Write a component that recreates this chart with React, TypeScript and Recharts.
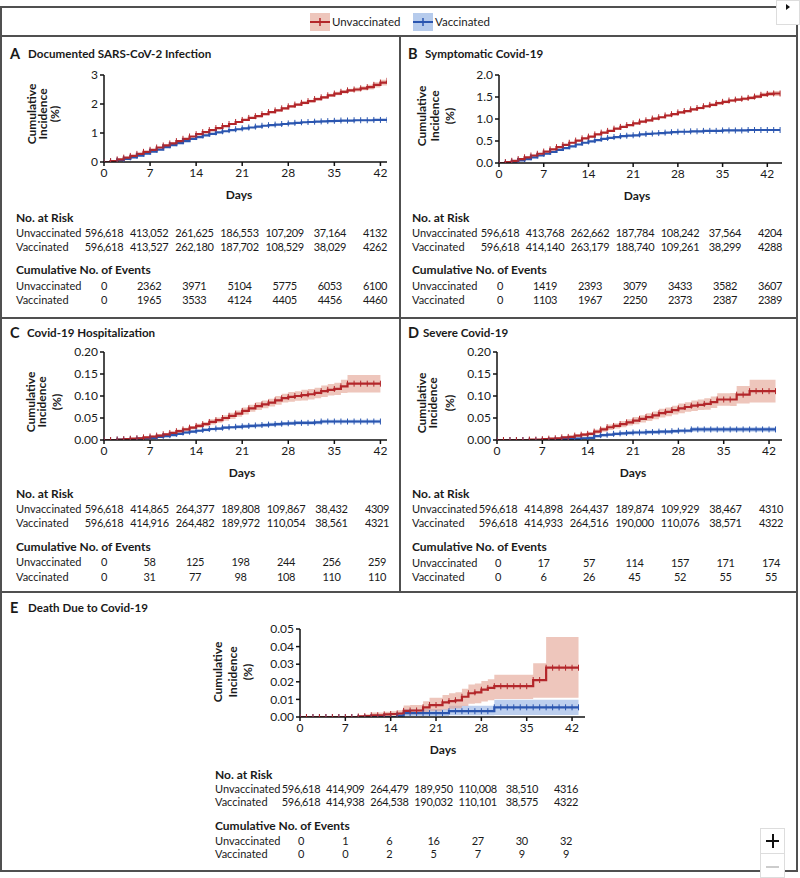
import React from 'react';
import { ComposedChart, Line, Area, XAxis, YAxis } from 'recharts';

const FONT = 'Lato, "Noto Sans", sans-serif';
const RED = '#b3262a';
const RED_BAND = '#e3a090';
const BLUE = '#2b56b0';
const BLUE_BAND = '#86a8e0';
const FRAME = '#505050';

const tickDays = [0, 7, 14, 21, 28, 35, 42];
const range = (n: number) => Array.from({ length: n }, (_, i) => i);

// ---------- Panel A: Documented SARS-CoV-2 Infection ----------
const daysA = range(44);
const redA = [0,0.03,0.09,0.15,0.21,0.28,0.35,0.42,0.50,0.57,0.64,0.72,0.80,0.88,0.96,1.03,1.10,1.17,1.24,1.31,1.38,1.45,1.52,1.58,1.65,1.72,1.78,1.85,1.92,1.98,2.04,2.10,2.17,2.23,2.30,2.36,2.42,2.47,2.50,2.54,2.58,2.66,2.74,2.80];
const redAci = [0,0.01,0.01,0.01,0.01,0.01,0.02,0.02,0.02,0.02,0.02,0.02,0.02,0.02,0.03,0.03,0.03,0.03,0.03,0.03,0.03,0.03,0.03,0.04,0.04,0.04,0.04,0.04,0.04,0.04,0.05,0.05,0.05,0.05,0.05,0.06,0.06,0.06,0.07,0.07,0.08,0.09,0.10,0.10];
const blueA = [0,0.02,0.06,0.11,0.16,0.22,0.29,0.36,0.43,0.51,0.58,0.65,0.72,0.80,0.86,0.92,0.97,1.02,1.06,1.10,1.13,1.16,1.19,1.22,1.25,1.27,1.29,1.31,1.33,1.35,1.37,1.38,1.39,1.40,1.41,1.42,1.43,1.43,1.44,1.44,1.44,1.45,1.45,1.45];
const blueAci = [0,0.005,0.01,0.01,0.01,0.01,0.01,0.01,0.01,0.01,0.015,0.015,0.015,0.015,0.015,0.015,0.015,0.015,0.02,0.02,0.02,0.02,0.02,0.02,0.02,0.02,0.02,0.02,0.02,0.02,0.02,0.02,0.02,0.02,0.02,0.02,0.02,0.02,0.02,0.02,0.02,0.02,0.02,0.02];
const riskUnvA = ['596,618','413,052','261,625','186,553','107,209','37,164','4132'];
const riskVacA = ['596,618','413,527','262,180','187,702','108,529','38,029','4262'];
const evUnvA = ['0','2362','3971','5104','5775','6053','6100'];
const evVacA = ['0','1965','3533','4124','4405','4456','4460'];

// ---------- Panel B: Symptomatic Covid-19 ----------
const daysB = range(45);
const redB = [0,0.02,0.05,0.09,0.13,0.17,0.21,0.26,0.31,0.36,0.41,0.46,0.51,0.56,0.60,0.65,0.69,0.73,0.78,0.82,0.86,0.90,0.94,0.97,1.01,1.04,1.08,1.11,1.15,1.18,1.22,1.25,1.29,1.32,1.36,1.39,1.42,1.44,1.46,1.48,1.51,1.55,1.57,1.58,1.58];
const redBci = [0,0.005,0.005,0.008,0.008,0.01,0.01,0.01,0.012,0.012,0.012,0.014,0.014,0.015,0.015,0.016,0.017,0.018,0.018,0.019,0.02,0.02,0.021,0.022,0.022,0.023,0.024,0.025,0.025,0.026,0.027,0.028,0.029,0.03,0.03,0.031,0.032,0.033,0.035,0.037,0.04,0.045,0.05,0.055,0.055];
const blueB = [0,0.01,0.03,0.06,0.09,0.13,0.17,0.21,0.25,0.30,0.34,0.38,0.42,0.46,0.49,0.52,0.55,0.57,0.59,0.61,0.62,0.63,0.65,0.66,0.67,0.68,0.69,0.70,0.71,0.71,0.72,0.72,0.73,0.73,0.73,0.74,0.74,0.74,0.74,0.75,0.75,0.75,0.75,0.75,0.75];
const blueBci = [0,0.004,0.005,0.006,0.007,0.008,0.008,0.009,0.01,0.01,0.01,0.011,0.011,0.012,0.012,0.012,0.012,0.013,0.013,0.013,0.013,0.013,0.013,0.013,0.013,0.014,0.014,0.014,0.014,0.014,0.014,0.014,0.014,0.015,0.015,0.015,0.015,0.015,0.015,0.015,0.015,0.016,0.016,0.016,0.016];
const riskUnvB = ['596,618','413,768','262,662','187,784','108,242','37,564','4204'];
const riskVacB = ['596,618','414,140','263,179','188,740','109,261','38,299','4288'];
const evUnvB = ['0','1419','2393','3079','3433','3582','3607'];
const evVacB = ['0','1103','1967','2250','2373','2387','2389'];

// ---------- Panel C: Covid-19 Hospitalization ----------
const daysC = range(43);
const redC = [0,0,0.001,0.002,0.003,0.004,0.006,0.008,0.010,0.013,0.016,0.020,0.024,0.028,0.032,0.036,0.041,0.045,0.050,0.055,0.060,0.066,0.072,0.077,0.081,0.085,0.090,0.095,0.098,0.100,0.102,0.104,0.107,0.111,0.114,0.116,0.122,0.128,0.128,0.128,0.128,0.128,0.128];
const redCci = [0,0,0.001,0.001,0.001,0.002,0.002,0.002,0.003,0.003,0.003,0.004,0.004,0.004,0.005,0.005,0.006,0.006,0.006,0.007,0.007,0.008,0.008,0.009,0.009,0.009,0.010,0.010,0.011,0.011,0.012,0.012,0.012,0.013,0.013,0.014,0.015,0.020,0.020,0.020,0.020,0.020,0.020];
const blueC = [0,0,0.001,0.001,0.002,0.003,0.004,0.005,0.007,0.009,0.011,0.014,0.017,0.019,0.021,0.023,0.025,0.026,0.028,0.029,0.030,0.031,0.032,0.033,0.034,0.035,0.036,0.037,0.038,0.039,0.039,0.039,0.040,0.042,0.042,0.042,0.042,0.042,0.042,0.042,0.042,0.042,0.042];
const blueCci = [0,0,0.001,0.001,0.001,0.001,0.001,0.002,0.002,0.002,0.002,0.002,0.003,0.003,0.003,0.003,0.003,0.003,0.003,0.003,0.004,0.004,0.004,0.004,0.004,0.004,0.004,0.004,0.004,0.004,0.004,0.004,0.004,0.004,0.004,0.004,0.004,0.004,0.004,0.004,0.004,0.004,0.004];
const riskUnvC = ['596,618','414,865','264,377','189,808','109,867','38,432','4309'];
const riskVacC = ['596,618','414,916','264,482','189,972','110,054','38,561','4321'];
const evUnvC = ['0','58','125','198','244','256','259'];
const evVacC = ['0','31','77','98','108','110','110'];

// ---------- Panel D: Severe Covid-19 ----------
const daysD = range(44);
const redD = [0,0,0,0,0,0.001,0.001,0.002,0.003,0.004,0.006,0.007,0.010,0.012,0.014,0.019,0.024,0.029,0.032,0.036,0.040,0.044,0.048,0.052,0.056,0.061,0.064,0.068,0.072,0.075,0.078,0.080,0.082,0.086,0.092,0.092,0.092,0.103,0.103,0.111,0.111,0.111,0.111,0.111];
const redDci = [0,0,0,0,0,0.001,0.001,0.001,0.002,0.002,0.002,0.003,0.003,0.004,0.004,0.005,0.005,0.006,0.006,0.007,0.007,0.008,0.008,0.009,0.009,0.010,0.010,0.010,0.011,0.011,0.012,0.012,0.013,0.013,0.014,0.014,0.015,0.020,0.020,0.026,0.026,0.026,0.026,0.026];
const blueD = [0,0,0,0,0,0,0,0,0,0.001,0.002,0.002,0.003,0.004,0.005,0.009,0.011,0.012,0.014,0.015,0.016,0.017,0.017,0.018,0.018,0.019,0.019,0.020,0.021,0.021,0.024,0.024,0.024,0.024,0.024,0.024,0.024,0.024,0.024,0.024,0.024,0.024,0.024,0.024];
const blueDci = [0,0,0,0,0,0,0,0,0,0.001,0.001,0.001,0.002,0.002,0.002,0.003,0.003,0.003,0.003,0.004,0.004,0.004,0.004,0.004,0.004,0.004,0.004,0.004,0.004,0.004,0.005,0.005,0.005,0.005,0.005,0.005,0.005,0.005,0.005,0.005,0.005,0.005,0.005,0.005];
const riskUnvD = ['596,618','414,898','264,437','189,874','109,929','38,467','4310'];
const riskVacD = ['596,618','414,933','264,516','190,000','110,076','38,571','4322'];
const evUnvD = ['0','17','57','114','157','171','174'];
const evVacD = ['0','6','26','45','52','55','55'];

// ---------- Panel E: Death Due to Covid-19 ----------
const daysE = range(44);
const redE = [0,0,0,0,0,0,0,0,0,0.0003,0.0005,0.001,0.001,0.0015,0.0017,0.002,0.0035,0.0037,0.0037,0.0055,0.0068,0.0068,0.0083,0.009,0.0095,0.0115,0.0135,0.014,0.0155,0.0165,0.0175,0.0175,0.0175,0.0175,0.0175,0.0175,0.021,0.021,0.028,0.028,0.028,0.028,0.028,0.028];
const redElo = [0,0,0,0,0,0,0,0,0,0,0,0.0003,0.0003,0.0005,0.0006,0.0008,0.0015,0.0016,0.0016,0.0025,0.0033,0.0033,0.0042,0.0047,0.005,0.0063,0.0075,0.0078,0.0088,0.0095,0.0102,0.0102,0.0102,0.0102,0.0102,0.0102,0.011,0.011,0.011,0.011,0.011,0.011,0.011,0.011];
const redEhi = [0,0,0,0,0,0,0,0,0,0.001,0.0015,0.0025,0.0025,0.003,0.0033,0.0038,0.0065,0.0068,0.0068,0.009,0.011,0.011,0.0125,0.0135,0.014,0.016,0.0185,0.019,0.0205,0.0215,0.024,0.024,0.024,0.024,0.024,0.024,0.0305,0.0305,0.0455,0.0455,0.0455,0.0455,0.0455,0.0455];
const blueE = [0,0,0,0,0,0,0,0,0,0,0,0,0,0,0,0.0008,0.0022,0.0022,0.0022,0.0022,0.0022,0.0022,0.0022,0.0033,0.0033,0.0033,0.0033,0.0033,0.0033,0.0033,0.0055,0.0055,0.0055,0.0055,0.0055,0.0055,0.0055,0.0055,0.0055,0.0055,0.0055,0.0055,0.0055,0.0055];
const blueElo = [0,0,0,0,0,0,0,0,0,0,0,0,0,0,0,0.0001,0.0005,0.0005,0.0005,0.0005,0.0005,0.0005,0.0005,0.001,0.001,0.001,0.001,0.001,0.001,0.001,0.0012,0.0012,0.0012,0.0012,0.0012,0.0012,0.0012,0.0012,0.0012,0.0012,0.0012,0.0012,0.0012,0.0012];
const blueEhi = [0,0,0,0,0,0,0,0,0,0,0,0,0,0,0,0.0025,0.0046,0.0046,0.0046,0.0046,0.0046,0.0046,0.0046,0.0064,0.0064,0.0064,0.0064,0.0064,0.0064,0.0064,0.0098,0.0098,0.0098,0.0098,0.0098,0.0098,0.0098,0.0098,0.0098,0.0098,0.0098,0.0098,0.0098,0.0098];
const riskUnvE = ['596,618','414,909','264,479','189,950','110,008','38,510','4316'];
const riskVacE = ['596,618','414,938','264,538','190,032','110,101','38,575','4322'];
const evUnvE = ['0','1','6','16','27','30','32'];
const evVacE = ['0','0','2','5','7','9','9'];

const yTicksA = [0, 1, 2, 3];
const yTicksB = [0, 0.5, 1, 1.5, 2];
const yTicksCD = [0, 0.05, 0.1, 0.15, 0.2];
const yTicksE = [0, 0.01, 0.02, 0.03, 0.04, 0.05];

const sym = (v: number[], hw: number[]) => ({ lo: v.map((x, i) => Math.max(0, x - hw[i])), hi: v.map((x, i) => x + hw[i]) });

type Txt = { x: number; y: number; children: any; bold?: boolean; size?: number; anchor?: 'start' | 'middle' | 'end'; color?: string; ls?: number };
const T = ({ x, y, children, bold, size = 11, anchor = 'start', color = '#1a1a1a', ls = 0 }: Txt) => (
  <div style={{
    position: 'absolute', left: x, top: y,
    transform: `translate(${anchor === 'middle' ? '-50%' : anchor === 'end' ? '-100%' : '0'}, -50%)`,
    fontSize: size, fontWeight: bold ? 700 : 400, whiteSpace: 'nowrap', lineHeight: 1,
    fontFamily: FONT, color, letterSpacing: ls,
  }}>{children}</div>
);

const censorDot = (color: string) => (props: any) => {
  const { cx, cy, index } = props;
  if (cx == null || cy == null) return <g key={`e${index}`} />;
  return <line key={`d${index}`} x1={cx} x2={cx} y1={cy - 3} y2={cy + 3} stroke={color} strokeWidth={1} />;
};

type PanelCfg = {
  letter: string; title: string; letterX: number; titleX: number; titleY: number;
  plot: { l: number; r: number; t: number; b: number }; max: number; daysX?: number;
  yTicks: number[]; yDigits: number;
  ylab: number[]; ylabY: number;
  days: number[]; red: number[]; redLo: number[]; redHi: number[]; blue: number[]; blueLo: number[]; blueHi: number[];
  table: { labelX: number; c0: number; c6: number; ys: number[] };
  riskUnv: string[]; riskVac: string[]; evUnv: string[]; evVac: string[];
};

function Panel({ cfg }: { cfg: PanelCfg }) {
  const { plot, max } = cfg;
  const YW = 45, MT = 8, XH = 30, MR = 3;
  const w = plot.r - plot.l + YW + MR;
  const h = plot.b - plot.t + MT + XH;
  const rows = cfg.days.map((d, i) => ({
    day: d,
    r: cfg.red[i], b: cfg.blue[i],
    rBand: [cfg.redLo[i], cfg.redHi[i]],
    bBand: [cfg.blueLo[i], cfg.blueHi[i]],
  }));
  const yMax = cfg.yTicks[cfg.yTicks.length - 1];
  const sx = (d: number) => plot.l + (d * (plot.r - plot.l)) / max;
  const col = (i: number) => cfg.table.c0 + (i * (cfg.table.c6 - cfg.table.c0)) / 6;
  const ys = cfg.table.ys;
  const axisStyle = { stroke: '#111', strokeWidth: 1.5 };
  const tickStyle = { fontSize: 12, fill: '#1a1a1a', fontFamily: FONT };
  return (
    <>
      <T x={cfg.letterX} y={cfg.titleY} bold size={14.5}>{cfg.letter}</T>
      <T x={cfg.titleX} y={cfg.titleY} bold size={11.6}>{cfg.title}</T>
      {['Cumulative', 'Incidence', '(%)'].map((s, i) => (
        <div key={s} style={{
          position: 'absolute', left: cfg.ylab[i], top: cfg.ylabY,
          transform: 'translate(-50%, -50%) rotate(-90deg)', fontFamily: FONT, fontWeight: 700,
          fontSize: 12, lineHeight: 1, whiteSpace: 'nowrap', color: '#1a1a1a',
        }}>{s}</div>
      ))}
      <div style={{ position: 'absolute', left: plot.l - YW, top: plot.t - MT }}>
        <ComposedChart width={w} height={h} data={rows} margin={{ top: MT, right: MR, left: 0, bottom: 0 }}>
          <XAxis type="number" dataKey="day" domain={[0, max]} ticks={tickDays} interval={0} allowDataOverflow
            height={XH} axisLine={axisStyle} tickLine={axisStyle} tickSize={4} tick={tickStyle} />
          <YAxis type="number" domain={[0, yMax]} ticks={cfg.yTicks} interval={0} allowDataOverflow width={YW}
            axisLine={axisStyle} tickLine={axisStyle} tickSize={4} tick={tickStyle}
            tickFormatter={(v: number) => v.toFixed(cfg.yDigits)} />
          <Area type="stepAfter" dataKey="bBand" fill={BLUE_BAND} fillOpacity={0.55} stroke="none" isAnimationActive={false} />
          <Area type="stepAfter" dataKey="rBand" fill={RED_BAND} fillOpacity={0.6} stroke="none" isAnimationActive={false} />
          <Line type="stepAfter" dataKey="b" stroke={BLUE} strokeWidth={2.2} dot={censorDot(BLUE)} isAnimationActive={false} />
          <Line type="stepAfter" dataKey="r" stroke={RED} strokeWidth={2.2} dot={censorDot(RED)} isAnimationActive={false} />
        </ComposedChart>
      </div>
      <T x={cfg.daysX ?? sx(21)} y={plot.b + 33} bold size={12} anchor="middle">Days</T>
      <T x={cfg.table.labelX} y={ys[0]} bold size={12}>No. at Risk</T>
      <T x={cfg.table.labelX} y={ys[1]}>Unvaccinated</T>
      <T x={cfg.table.labelX} y={ys[2]}>Vaccinated</T>
      <T x={cfg.table.labelX} y={ys[3]} bold size={12}>Cumulative No. of Events</T>
      <T x={cfg.table.labelX} y={ys[4]}>Unvaccinated</T>
      <T x={cfg.table.labelX} y={ys[5]}>Vaccinated</T>
      {cfg.riskUnv.map((s, i) => <T key={'ru' + i} x={col(i)} y={ys[1]} anchor="middle" ls={-0.35}>{s}</T>)}
      {cfg.riskVac.map((s, i) => <T key={'rv' + i} x={col(i)} y={ys[2]} anchor="middle" ls={-0.35}>{s}</T>)}
      {cfg.evUnv.map((s, i) => <T key={'eu' + i} x={col(i)} y={ys[4]} anchor="middle" ls={-0.35}>{s}</T>)}
      {cfg.evVac.map((s, i) => <T key={'ev' + i} x={col(i)} y={ys[5]} anchor="middle" ls={-0.35}>{s}</T>)}
    </>
  );
}

const bandRA = sym(redA, redAci), bandBA = sym(blueA, blueAci);
const bandRB = sym(redB, redBci), bandBB = sym(blueB, blueBci);
const bandRC = sym(redC, redCci), bandBC = sym(blueC, blueCci);
const bandRD = sym(redD, redDci), bandBD = sym(blueD, blueDci);

const panels: PanelCfg[] = [
  {
    letter: 'A', title: 'Documented SARS-CoV-2 Infection', letterX: 10, titleX: 28, titleY: 54,
    plot: { l: 104, r: 387, t: 75, b: 162 }, max: 43, daysX: 239, yTicks: yTicksA, yDigits: 0,
    ylab: [32, 43, 55], ylabY: 114,
    days: daysA, red: redA, redLo: bandRA.lo, redHi: bandRA.hi, blue: blueA, blueLo: bandBA.lo, blueHi: bandBA.hi,
    table: { labelX: 16, c0: 104, c6: 375, ys: [218, 232, 246, 270, 285, 299] },
    riskUnv: riskUnvA, riskVac: riskVacA, evUnv: evUnvA, evVac: evVacA,
  },
  {
    letter: 'B', title: 'Symptomatic Covid-19', letterX: 408, titleX: 425, titleY: 54,
    plot: { l: 499, r: 782, t: 75, b: 163 }, max: 44.3, daysX: 637, yTicks: yTicksB, yDigits: 1,
    ylab: [422, 435, 450], ylabY: 116,
    days: daysB, red: redB, redLo: bandRB.lo, redHi: bandRB.hi, blue: blueB, blueLo: bandBB.lo, blueHi: bandBB.hi,
    table: { labelX: 412, c0: 500, c6: 770, ys: [218, 232, 246, 270, 285, 299] },
    riskUnv: riskUnvB, riskVac: riskVacB, evUnv: evUnvB, evVac: evVacB,
  },
  {
    letter: 'C', title: 'Covid-19 Hospitalization', letterX: 10, titleX: 27, titleY: 333,
    plot: { l: 104, r: 387, t: 352, b: 440 }, max: 43, daysX: 242, yTicks: yTicksCD, yDigits: 2,
    ylab: [31, 42, 57], ylabY: 402,
    days: daysC, red: redC, redLo: bandRC.lo, redHi: bandRC.hi, blue: blueC, blueLo: bandBC.lo, blueHi: bandBC.hi,
    table: { labelX: 16, c0: 104, c6: 377, ys: [494, 508, 522, 547, 561, 576] },
    riskUnv: riskUnvC, riskVac: riskVacC, evUnv: evUnvC, evVac: evVacC,
  },
  {
    letter: 'D', title: 'Severe Covid-19', letterX: 408, titleX: 423, titleY: 333,
    plot: { l: 497, r: 782, t: 352, b: 440 }, max: 44, daysX: 633, yTicks: yTicksCD, yDigits: 2,
    ylab: [422, 433, 450], ylabY: 403,
    days: daysD, red: redD, redLo: bandRD.lo, redHi: bandRD.hi, blue: blueD, blueLo: bandBD.lo, blueHi: bandBD.hi,
    table: { labelX: 412, c0: 498, c6: 771, ys: [494, 508, 522, 547, 562, 576] },
    riskUnv: riskUnvD, riskVac: riskVacD, evUnv: evUnvD, evVac: evVacD,
  },
  {
    letter: 'E', title: 'Death Due to Covid-19', letterX: 10, titleX: 28, titleY: 608,
    plot: { l: 300, r: 585, t: 629, b: 717 }, max: 44, daysX: 443, yTicks: yTicksE, yDigits: 2,
    ylab: [218, 233, 248], ylabY: 672,
    days: daysE, red: redE, redLo: redElo, redHi: redEhi, blue: blueE, blueLo: blueElo, blueHi: blueEhi,
    table: { labelX: 215, c0: 301, c6: 566, ys: [775, 788, 801, 826, 840, 853] },
    riskUnv: riskUnvE, riskVac: riskVacE, evUnv: evUnvE, evVac: evVacE,
  },
];

const HL = ({ x1, x2, y }: { x1: number; x2: number; y: number }) => (
  <div style={{ position: 'absolute', left: x1, top: y - 1, width: x2 - x1, height: 2, background: FRAME }} />
);
const VL = ({ x, y1, y2 }: { x: number; y1: number; y2: number }) => (
  <div style={{ position: 'absolute', left: x - 1, top: y1, width: 2, height: y2 - y1, background: FRAME }} />
);

const LegendIcon = ({ x, color, band }: { x: number; color: string; band: string }) => (
  <svg style={{ position: 'absolute', left: x, top: 13 }} width={20} height={18}>
    <rect x={0} y={0} width={20} height={18} fill={band} fillOpacity={0.6} />
    <line x1={0} x2={20} y1={9} y2={9} stroke={color} strokeWidth={2} />
    <line x1={10} x2={10} y1={5} y2={13} stroke={color} strokeWidth={1.5} />
  </svg>
);

export default function App() {
  return (
    <div style={{ position: 'absolute', left: 0, top: 0, width: 800, height: 878, background: '#fff', overflow: 'hidden', fontFamily: FONT }}>
      <HL x1={0} x2={776} y={7} />
      <HL x1={0} x2={798} y={36} />
      <HL x1={0} x2={798} y={318} />
      <HL x1={0} x2={798} y={592} />
      <HL x1={0} x2={798} y={871} />
      <VL x={1} y1={6} y2={872} />
      <VL x={797} y1={25} y2={872} />
      <VL x={400} y1={36} y2={592} />
      <LegendIcon x={310} color={RED} band={RED_BAND} />
      <T x={332} y={22} size={11.5}>Unvaccinated</T>
      <LegendIcon x={413} color={BLUE} band={BLUE_BAND} />
      <T x={435} y={22} size={11.5}>Vaccinated</T>
      {panels.map((p) => <Panel key={p.letter} cfg={p} />)}
      <div style={{ position: 'absolute', left: 776, top: 0, width: 24, height: 25, background: '#fff', border: '1px solid #ddd', boxSizing: 'border-box' }}>
        <div style={{ position: 'absolute', left: 9, top: 3, width: 0, height: 0, borderTop: '3px solid transparent', borderBottom: '3px solid transparent', borderLeft: '4px solid #111' }} />
      </div>
      <div style={{ position: 'absolute', left: 760, top: 828, width: 25, height: 50, background: '#fff', border: '1px solid #ddd', boxSizing: 'border-box' }}>
        <div style={{ position: 'absolute', left: 0, top: 24, width: 23, height: 1, background: '#ddd' }} />
        <div style={{ position: 'absolute', left: 5, top: 11, width: 13, height: 2, background: '#111' }} />
        <div style={{ position: 'absolute', left: 11, top: 5, width: 2, height: 14, background: '#111' }} />
        <div style={{ position: 'absolute', left: 5, top: 37, width: 13, height: 1.5, background: '#ccc' }} />
      </div>
    </div>
  );
}
